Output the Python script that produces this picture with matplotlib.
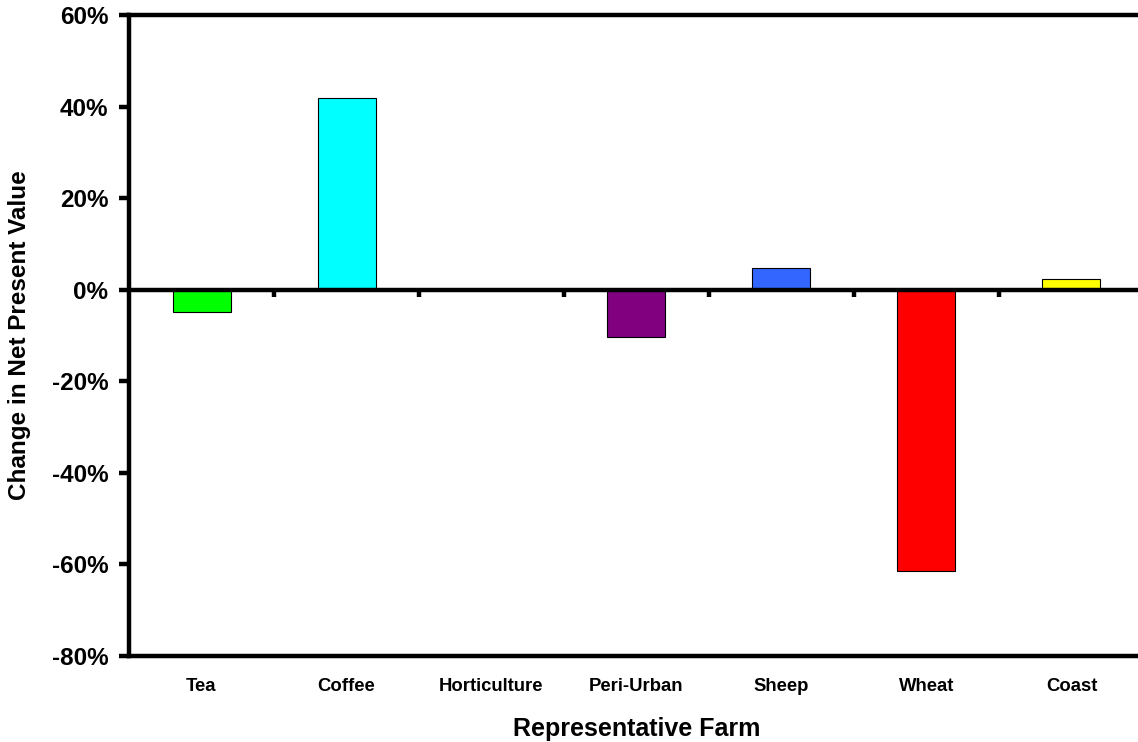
import matplotlib
matplotlib.use("Agg")
import matplotlib.pyplot as plt
import numpy as np
from matplotlib.ticker import FuncFormatter

categories = ["Tea", "Coffee", "Horticulture", "Peri-Urban", "Sheep", "Wheat", "Coast"]
values = [-4.8, 41.8, 0.0, -10.3, 4.8, -61.5, 2.3]
colors = ["#00FF00", "#00FFFF", "#FF9900", "#800080", "#3366FF", "#FF0000", "#FFFF00"]
yticks = [-80, -60, -40, -20, 0, 20, 40, 60]

plt.rcParams['font.family'] = ['Liberation Sans', 'DejaVu Sans']

fig = plt.figure(figsize=(11.38, 7.42), dpi=100)
ax = fig.add_axes([129/1138, 1-656/742, 1015/1138, (656-15)/742])

x = np.arange(len(categories))
ax.bar(x, values, width=0.4, color=colors, edgecolor="black", linewidth=0.8, zorder=2)

ax.set_xlim(-0.5, len(categories) - 0.5)
ax.set_ylim(-80, 60)
ax.set_yticks(yticks)
ax.yaxis.set_major_formatter(FuncFormatter(lambda v, p: f"{int(v)}%"))
ax.set_xticks(x)
ax.set_xticklabels(categories, fontsize=13.3, fontweight="bold")
ax.tick_params(axis="x", length=0, pad=16)
ax.tick_params(axis="y", length=7, width=3.2, labelsize=17.5, pad=8)
for lbl in ax.get_yticklabels():
    lbl.set_fontweight("bold")

for s in ["left", "bottom", "top"]:
    ax.spines[s].set_linewidth(3.2)
ax.spines["right"].set_visible(False)

# zero line with small ticks at category boundaries
ax.axhline(0, color="black", linewidth=3.2, zorder=3)
bounds = np.arange(len(categories) - 1) + 0.5
ax.vlines(bounds, -1.6, 0, color="black", linewidth=3.2, zorder=3)

ax.set_ylabel("Change in Net Present Value", fontsize=17.5, fontweight="bold")
ax.set_xlabel("Representative Farm", fontsize=18, fontweight="bold", labelpad=16)
ax.yaxis.set_label_coords(-0.0966, 0.5)

fig.savefig("out.png", dpi=100)
